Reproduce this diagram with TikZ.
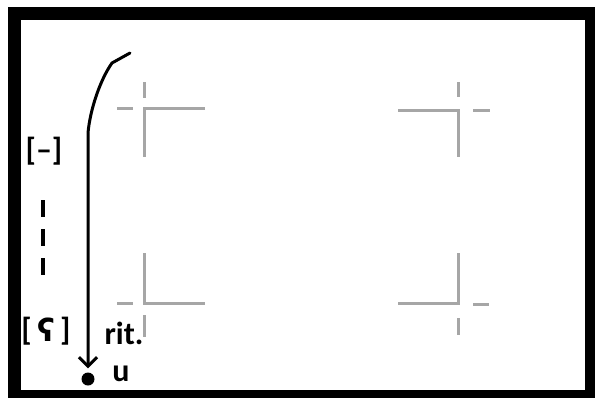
\documentclass[tikz,border=0pt]{standalone}
\usepackage{fontspec}
\setmainfont{Carlito}
\newfontfamily\ipafont{DejaVu Sans}
\usetikzlibrary{arrows.meta}
\begin{document}
\begin{tikzpicture}[x=1pt,y=-1pt,
  cropline/.style={draw=black!35, line width=3pt},
  lbl/.style={font=\fontsize{32}{38}\selectfont\bfseries, inner sep=0pt},
  frameline/.style={line width=12.5pt},
  mainarrow/.style={line width=3pt, line cap=round, -{Straight Barb[length=9pt,width=18pt]}, shorten >=4pt}]
\useasboundingbox (0,0) rectangle (595,397);
\begin{scope}
  \clip (0,0) rectangle (595,397);
  \draw[frameline] (14.25,13.5) rectangle (591,396);
\end{scope}
% crop marks
\draw[cropline] (205,108) -- (144,108) -- (144,157);
\draw[cropline] (117,108) -- (133,108);
\draw[cropline] (144,82) -- (144,98);
\draw[cropline] (144,253) -- (144,303) -- (205,303);
\draw[cropline] (117,303) -- (133,303);
\draw[cropline] (144,315) -- (144,337);
\draw[cropline] (398,110) -- (458,110) -- (458,157);
\draw[cropline] (473,110) -- (490,110);
\draw[cropline] (458,82) -- (458,97);
\draw[cropline] (458,253) -- (458,303) -- (398,303);
\draw[cropline] (473,304) -- (489,304);
\draw[cropline] (458,318) -- (458,335);
% labels
\node[lbl] (t1) at (44,151) {[–]};
\node[lbl] (t2) at (46,331) {[\,{\ipafont\bfseries\fontsize{31}{36}\selectfont\raisebox{-1pt}{ʕ}}\,]};
\node[lbl] (rit) at (124,333) {rit.};
\node[lbl] (ulbl) at (121,374) {u};
% dashed line
\coordinate (d1) at (43,200);
\coordinate (d2) at (43,277);
\draw[line width=4pt, dash pattern=on 17pt off 12pt] (d1) -- (d2);
% main arrow
\node[circle, fill, inner sep=0pt, minimum size=13pt] (dot) at (88,379) {};
\coordinate (s) at (130,53);
\draw[mainarrow] (s) -- (112,63) .. controls (100,80) and (90,110) .. (88,133) -- (dot.north);
\end{tikzpicture}
\end{document}
